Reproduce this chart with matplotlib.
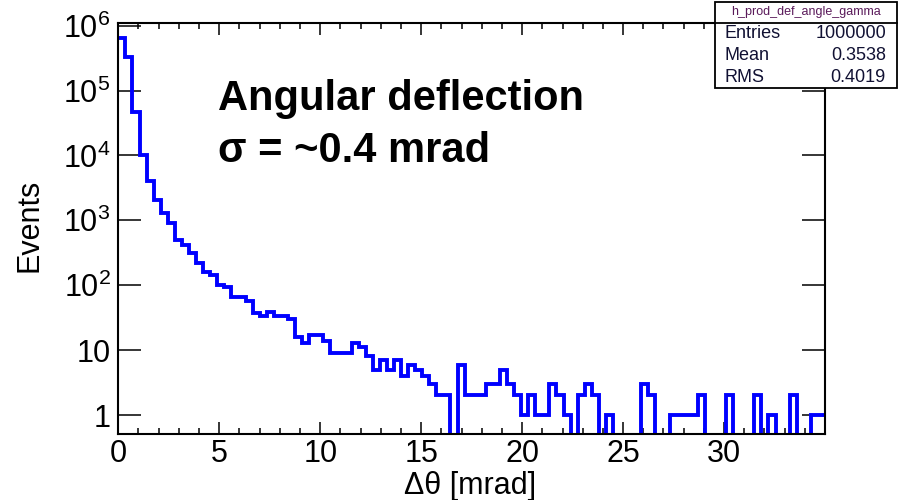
import numpy as np
import matplotlib
matplotlib.use("Agg")
import matplotlib.pyplot as plt
from matplotlib.ticker import FixedLocator, LogLocator, MultipleLocator, NullFormatter
from matplotlib.patches import Rectangle
from matplotlib.lines import Line2D

plt.rcParams['font.family'] = ['Liberation Sans', 'DejaVu Sans']
plt.rcParams['mathtext.fontset'] = 'custom'
plt.rcParams['mathtext.rm'] = 'Liberation Sans'
plt.rcParams['mathtext.it'] = 'Liberation Sans'

# ---------------- data ----------------
x_min, x_max, n_bins = 0.0, 35.0, 100
counts = [
    650000, 325000, 46000, 10300, 4000, 2080, 1280, 900, 500, 410,
    315, 217, 158, 142, 101, 95, 67, 67, 57, 37,
    34, 39, 33, 34, 30, 16, 13, 17, 17, 14,
    9, 9, 9, 13, 11, 8, 5, 7, 5, 7,
    4, 6, 5, 4, 3, 2, 2, 0, 6, 2,
    2, 2, 3, 3, 5, 3, 2, 1, 2, 1,
    1, 3, 2, 1, 0, 2, 3, 2, 0, 1,
    0, 0, 0, 0, 3, 2, 0, 0, 1, 1,
    1, 1, 2, 0, 0, 0, 2, 0, 0, 0,
    2, 0, 1, 0, 0, 2, 0, 0, 1, 1,
]
x_ticks = [0, 5, 10, 15, 20, 25, 30]
y_ticks = [1, 10, 1e2, 1e3, 1e4, 1e5, 1e6]
y_tick_labels = ["1", "10", r"$10^{2}$", r"$10^{3}$", r"$10^{4}$", r"$10^{5}$", r"$10^{6}$"]
x_label = "Δθ [mrad]"
y_label = "Events"
note_lines = ["Angular deflection", "σ = ~0.4 mrad"]
stats_title = "h_prod_def_angle_gamma"
stats_names = ["Entries", "Mean", "RMS"]
stats_values = ["1000000", "0.3538", "0.4019"]
y_min, y_max = 0.51, 1.11e6

# ---------------- figure ----------------
W, H = 903, 500
fig = plt.figure(figsize=(W / 100, H / 100), dpi=100)
L, R, T, B = 118.3, 825.0, 22.7, 434.0
ax = fig.add_axes([L / W, 1 - B / H, (R - L) / W, (B - T) / H])

edges = np.linspace(x_min, x_max, n_bins + 1)
vals = np.asarray(counts, dtype=float)
plot_vals = np.where(vals > 0, vals, y_min * 0.3)
ax.stairs(plot_vals, edges, baseline=None, color=(0, 0, 1), lw=2.8, zorder=2)

ax.set_xlim(x_min, x_max)
ax.set_yscale('log')
ax.set_ylim(y_min, y_max)

ax.xaxis.set_major_locator(FixedLocator(x_ticks))
ax.set_xticklabels([str(t) for t in x_ticks])
ax.xaxis.set_minor_locator(MultipleLocator(1))
ax.yaxis.set_major_locator(FixedLocator(y_ticks))
ax.set_yticklabels(y_tick_labels)
ax.yaxis.set_minor_locator(LogLocator(base=10, subs=np.arange(2, 10)))
ax.yaxis.set_minor_formatter(NullFormatter())

ax.tick_params(which='both', direction='in', top=True, right=True, width=1.1, color='black')
ax.tick_params(axis='x', which='major', length=8.6, labelsize=22, pad=3.5)
ax.tick_params(axis='x', which='minor', length=4.0)
ax.tick_params(axis='y', which='major', length=16.5, labelsize=22, pad=5.5)
ax.tick_params(axis='y', which='minor', length=9.0)
for s in ax.spines.values():
    s.set_linewidth(1.5)
    s.set_zorder(3)

fig.text(470 / W, 1 - 486 / H, x_label, fontsize=22, ha='center', va='center')
fig.text(30 / W, 1 - 225 / H, y_label, fontsize=22, ha='center', va='center', rotation=90)

fig.text(218 / W, 1 - 110 / H, note_lines[0], fontsize=30, fontweight='bold', ha='left', va='baseline')
fig.text(218 / W, 1 - 162 / H, note_lines[1], fontsize=30, fontweight='bold', ha='left', va='baseline')

# stats box
bx0, bx1, by0, by1, bsep = 715.0, 896.7, 1.7, 88.3, 23.3
fig.add_artist(Rectangle((bx0 / W, 1 - by1 / H), (bx1 - bx0) / W, (by1 - by0) / H,
                         transform=fig.transFigure, facecolor='white', edgecolor='black',
                         lw=1.3, zorder=10))
fig.add_artist(Line2D([bx0 / W, bx1 / W], [1 - bsep / H, 1 - bsep / H],
                      transform=fig.transFigure, color='black', lw=1.3, zorder=11))
fig.text((bx0 + bx1) / 2 / W, 1 - 12.5 / H, stats_title, fontsize=9, color='#5a1a5a',
         ha='center', va='center', zorder=12)
row_y = [33.0, 56.0, 77.0]
for name, val, yy in zip(stats_names, stats_values, row_y):
    fig.text(725 / W, 1 - yy / H, name, fontsize=13, color='#111133', ha='left', va='center', zorder=12)
    fig.text(886 / W, 1 - yy / H, val, fontsize=13, color='#111133', ha='right', va='center', zorder=12)

fig.savefig("out.png", dpi=100)
